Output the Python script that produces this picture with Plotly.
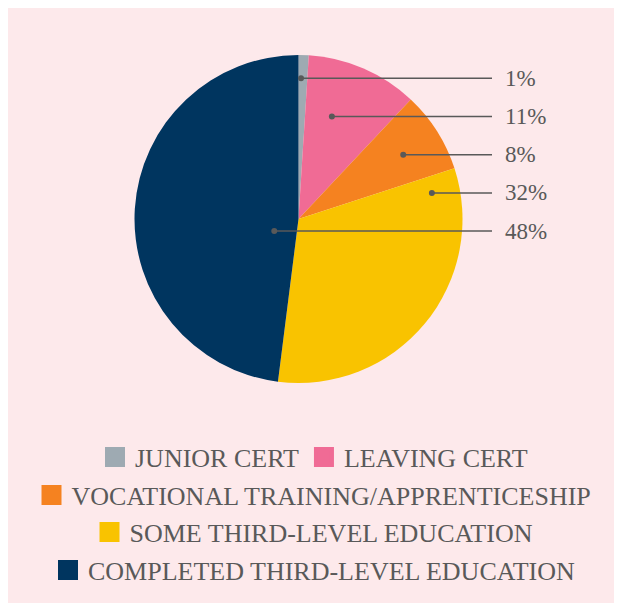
import numpy as np
import plotly.graph_objects as go

# ---- data ----
categories = [
    "JUNIOR CERT",
    "LEAVING CERT",
    "VOCATIONAL TRAINING/APPRENTICESHIP",
    "SOME THIRD-LEVEL EDUCATION",
    "COMPLETED THIRD-LEVEL EDUCATION",
]
values = [1, 11, 8, 32, 48]
colors = ["#9eaab2", "#f06b95", "#f58220", "#f9c300", "#00355f"]

# ---- layout config (px relative to figure origin; page adds an 8px body margin) ----
W, H = 614, 595
BG = "#fde9eb"
TEXT = "#595959"
FONT = "Liberation Serif"
CX, CY, R = 290.5, 211.0, 164.0          # pie centre / radius
ROW0, ROW_STEP = 70.3, 38.2              # label rows
LINE_END_X, LABEL_X = 484.0, 495.0
anchor_frac = [0.28, 0.30, 0.49, 0.65, 0.86]  # dot position along the row chord inside each slice
legend_rows = [1, 1, 2, 3, 4]
legend_row_y = [449, 487, 524, 562]
LEGEND_CX = 306


def px(x):
    return x / W


def py(y):
    return 1 - y / H


fig = go.Figure()
fig.add_trace(go.Pie(
    labels=categories, values=values, sort=False, direction="clockwise", rotation=0,
    marker=dict(colors=colors, line=dict(width=0)), textinfo="none",
    hoverinfo="label+percent", showlegend=False,
    domain=dict(x=[px(CX - R), px(CX + R)], y=[py(CY + R), py(CY - R)]),
))

for i, (c, col) in enumerate(zip(categories, colors)):
    lg = "legend" if legend_rows[i] == 1 else f"legend{legend_rows[i]}"
    fig.add_trace(go.Scatter(
        x=[None], y=[None], mode="markers", name=c,
        marker=dict(symbol="square", size=16, color=col, line=dict(width=4, color=col)),
        legend=lg, showlegend=True, hoverinfo="skip",
    ))

total = sum(values)
cum = np.cumsum([0] + values)
xs = np.arange(CX - R, CX + R, 0.05)
for i, v in enumerate(values):
    a0, a1 = 360 * cum[i] / total, 360 * cum[i + 1] / total
    yrow = ROW0 + i * ROW_STEP
    dy = CY - yrow
    dx = xs - CX
    ang = np.degrees(np.arctan2(dx, dy)) % 360
    inside = (dx ** 2 + dy ** 2 <= R ** 2) & (ang >= a0) & (ang <= a1)
    xin = xs[inside]
    xd = xin.min() + anchor_frac[i] * (xin.max() - xin.min())
    fig.add_shape(type="line", xref="paper", yref="paper", x0=px(xd), x1=px(LINE_END_X),
                  y0=py(yrow), y1=py(yrow), line=dict(color=TEXT, width=1.5))
    fig.add_shape(type="circle", xref="paper", yref="paper", x0=px(xd - 3), x1=px(xd + 3),
                  y0=py(yrow + 3), y1=py(yrow - 3), fillcolor=TEXT, line=dict(width=0))
    fig.add_annotation(x=px(LABEL_X), y=py(yrow), xref="paper", yref="paper",
                       text=f"{v / total * 100:.0f}%", showarrow=False,
                       xanchor="left", yanchor="middle",
                       font=dict(family=FONT, size=23, color=TEXT))

legend_common = dict(
    orientation="h", xanchor="center", x=px(LEGEND_CX), yanchor="middle",
    font=dict(family=FONT, size=26, color=TEXT), bgcolor="rgba(0,0,0,0)", borderwidth=0,
)
layout_legends = {}
for k, yy in enumerate(legend_row_y):
    name = "legend" if k == 0 else f"legend{k + 1}"
    layout_legends[name] = dict(legend_common, y=py(yy))

fig.update_layout(
    width=W, height=H, margin=dict(l=0, r=0, t=0, b=0),
    paper_bgcolor=BG, plot_bgcolor="rgba(0,0,0,0)",
    xaxis=dict(visible=False), yaxis=dict(visible=False),
    **layout_legends,
)

fig.write_html("out.html")
